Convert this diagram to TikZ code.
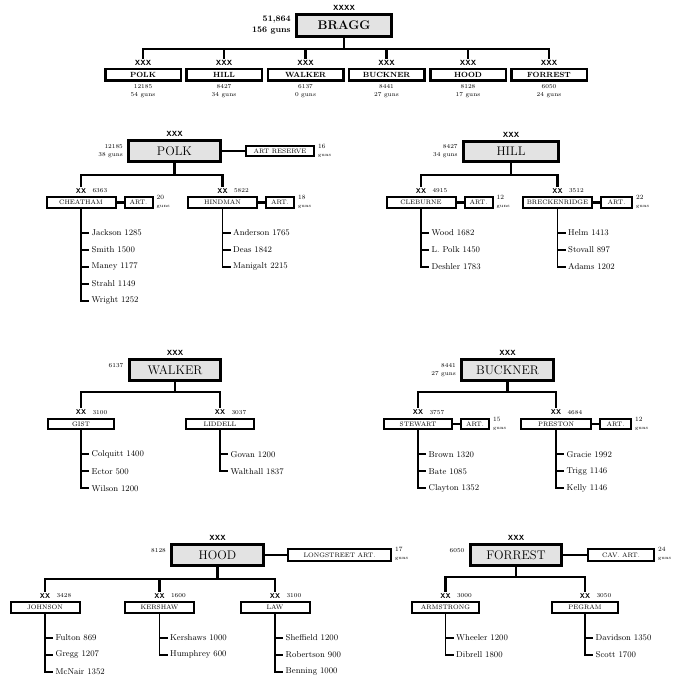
\documentclass[tikz,border=0pt]{standalone}
\usepackage{fontspec}
\usetikzlibrary{positioning, calc}

\newcommand{\gn}{{\fontsize{4.8}{5}\selectfont guns}}
% brigades hanging below a division box
\newcommand{\brigades}[2]{%
  \foreach \t [count=\i] in {#2} {
    \node[bde] (#1-\i) at ($(#1.south)+(8,7+17*\i)$) {\t};
    \draw[sub] (#1.south) |- (#1-\i.west);
  }}

\begin{document}
\begin{tikzpicture}[x=1pt, y=-1pt,
  army/.style={draw, line width=3.2pt, fill=gray!22, minimum width=95pt,
    minimum height=22pt, inner sep=0pt, font=\fontsize{12.5}{12.5}\selectfont\bfseries},
  corps/.style={draw, line width=2.5pt, fill=white, minimum width=75.5pt,
    minimum height=11.5pt, inner sep=0pt, font=\fontsize{7.5}{7.5}\selectfont\bfseries},
  hq/.style={draw, line width=3.3pt, fill=gray!22, minimum width=91.5pt,
    minimum height=20.5pt, inner sep=0pt, font=\fontsize{12.5}{12.5}\selectfont},
  div/.style={draw, line width=2pt, fill=white, minimum width=69pt,
    minimum height=10.5pt, inner sep=0pt, font=\fontsize{6.5}{6.5}\selectfont},
  art/.style={div, minimum width=28pt, right=7pt of #1},
  ech/.style={inner sep=1pt, font=\fontsize{7.5}{7.5}\selectfont\sffamily\bfseries},
  xx/.style={inner sep=1pt, font=\fontsize{7}{7}\selectfont\sffamily\bfseries},
  num/.style={inner sep=1pt, align=right, font=\fontsize{6}{8}\selectfont},
  guns/.style={inner sep=1pt, align=left, anchor=north west,
    font=\fontsize{6.5}{8}\selectfont},
  bde/.style={anchor=west, inner sep=2.5pt, font=\fontsize{8.5}{8.5}\selectfont},
  conn/.style={line width=2.2pt},
  sub/.style={line width=1.8pt}]

  \useasboundingbox (0,0) rectangle (673,676);

  % army and corps
  \node[army] (bragg) at (344,25.5) {BRAGG};
  \node[ech, above=1pt of bragg] {XXXX};
  \node[num, left=3pt of bragg, font=\fontsize{8.5}{11}\selectfont\bfseries] {51,864\\156 guns};
  \foreach \t/\n/\x/\m/\g in {POLK/c1/143/12185/54, HILL/c2/224/8427/34,
      WALKER/c3/305.5/6137/0, BUCKNER/c4/386.5/8441/27,
      HOOD/c5/468/8128/17, FORREST/c6/549/6050/24} {
    \node[corps] (\n) at (\x,75) {\t};
    \node[ech, above=1pt of \n] (\n-x) {XXX};
    \node[num, align=center, below=1pt of \n] {\m\\\g{} guns};
    \draw[conn] (bragg.south) -- ++(0,11) -| (\n-x.north);
  }

  % Polk
  \node[hq] (polk) at (174.5,151) {POLK};
  \node[ech, above=1pt of polk] {XXX};
  \node[num, left=3pt of polk] {12185\\38 guns};
  \node[div, minimum width=68pt] (artres) at (280,151) {ART RESERVE};
  \node[guns] at ([shift={(2,-2)}]artres.north east) {16\\\gn};
  \draw[conn] (polk.east) -- (artres.west);

  \node[div] (cheat) at (81,202.5) {CHEATHAM};
  \node[xx, above=2pt of cheat] (cheat-x) {XX};
  \node[num, right=4pt of cheat-x] {6363};
  \node[art=cheat] (cheat-art) {ART.};
  \node[guns] at ([shift={(2,-2)}]cheat-art.north east) {20\\\gn};
  \draw[conn] (cheat) -- (cheat-art);
  \brigades{cheat}{Jackson 1285, Smith 1500, Maney 1177, Strahl 1149, Wright 1252}

  \node[div] (hind) at (222.5,202.5) {HINDMAN};
  \node[xx, above=2pt of hind] (hind-x) {XX};
  \node[num, right=4pt of hind-x] {5822};
  \node[art=hind] (hind-art) {ART.};
  \node[guns] at ([shift={(2,-2)}]hind-art.north east) {18\\\gn};
  \draw[conn] (hind) -- (hind-art);
  \brigades{hind}{Anderson 1765, Deas 1842, Manigalt 2215}

  \draw[conn] (polk.south) -- ++(0,12) -| (cheat-x.north);
  \draw[conn] (polk.south) -- ++(0,12) -| (hind-x.north);

  % Hill
  \node[hq, minimum width=95pt] (hill) at (511,151.5) {HILL};
  \node[ech, above=1pt of hill] {XXX};
  \node[num, left=3pt of hill] {8427\\34 guns};

  \node[div] (cleb) at (421,202.5) {CLEBURNE};
  \node[xx, above=2pt of cleb] (cleb-x) {XX};
  \node[num, right=4pt of cleb-x] {4915};
  \node[art=cleb] (cleb-art) {ART.};
  \node[guns] at ([shift={(2,-2)}]cleb-art.north east) {12\\\gn};
  \draw[conn] (cleb) -- (cleb-art);
  \brigades{cleb}{Wood 1682, L. Polk 1450, Deshler 1783}

  \node[div] (breck) at (557.5,202.5) {BRECKENRIDGE};
  \node[xx, above=2pt of breck] (breck-x) {XX};
  \node[num, right=4pt of breck-x] {3512};
  \node[art=breck, minimum width=31pt] (breck-art) {ART.};
  \node[guns] at ([shift={(2,-2)}]breck-art.north east) {22\\\gn};
  \draw[conn] (breck) -- (breck-art);
  \brigades{breck}{Helm 1413, Stovall 897, Adams 1202}

  \draw[conn] (hill.south) -- ++(0,12) -| (cleb-x.north);
  \draw[conn] (hill.south) -- ++(0,12) -| (breck-x.north);

  % Walker
  \node[hq] (walker) at (175,370) {WALKER};
  \node[ech, above=1pt of walker] {XXX};
  \node[num, anchor=north east] at ([shift={(-3,4)}]walker.north west) {6137};

  \node[div, minimum width=66pt] (gist) at (81,424) {GIST};
  \node[xx, above=2pt of gist] (gist-x) {XX};
  \node[num, right=4pt of gist-x] {3100};
  \brigades{gist}{Colquitt 1400, Ector 500, Wilson 1200}

  \node[div, minimum width=68pt] (lidd) at (220,424) {LIDDELL};
  \node[xx, above=2pt of lidd] (lidd-x) {XX};
  \node[num, right=4pt of lidd-x] {3037};
  \brigades{lidd}{Govan 1200, Walthall 1837}

  \draw[conn] (walker.south) -- ++(0,10) -| (gist-x.north);
  \draw[conn] (walker.south) -- ++(0,10) -| (lidd-x.north);

  % Buckner
  \node[hq] (buck) at (507.5,370) {BUCKNER};
  \node[ech, above=1pt of buck] {XXX};
  \node[num, left=3pt of buck] {8441\\27 guns};

  \node[div, minimum width=68pt] (stew) at (418,424) {STEWART};
  \node[xx, above=2pt of stew] (stew-x) {XX};
  \node[num, right=4pt of stew-x] {3757};
  \node[art=stew] (stew-art) {ART.};
  \node[guns] at ([shift={(2,-2)}]stew-art.north east) {15\\\gn};
  \draw[conn] (stew) -- (stew-art);
  \brigades{stew}{Brown 1320, Bate 1085, Clayton 1352}

  \node[div, minimum width=70pt] (prest) at (556,424) {PRESTON};
  \node[xx, above=2pt of prest] (prest-x) {XX};
  \node[num, right=4pt of prest-x] {4684};
  \node[art=prest, minimum width=31pt] (prest-art) {ART.};
  \node[guns] at ([shift={(2,-2)}]prest-art.north east) {12\\\gn};
  \draw[conn] (prest) -- (prest-art);
  \brigades{prest}{Gracie 1992, Trigg 1146, Kelly 1146}

  \draw[conn] (buck.south) -- ++(0,10) -| (stew-x.north);
  \draw[conn] (buck.south) -- ++(0,10) -| (prest-x.north);

  % Hood
  \node[hq] (hood) at (217.5,555) {HOOD};
  \node[ech, above=1pt of hood] {XXX};
  \node[num, anchor=north east] at ([shift={(-3,4)}]hood.north west) {8128};
  \node[div, minimum width=103pt, minimum height=12pt] (longst) at (339.5,555) {LONGSTREET ART.};
  \node[guns] at ([shift={(2,-2)}]longst.north east) {17\\\gn};
  \draw[conn] (hood.east) -- (longst.west);

  \node[div] (john) at (45,607.5) {JOHNSON};
  \node[xx, above=2pt of john] (john-x) {XX};
  \node[num, right=4pt of john-x] {3428};
  \brigades{john}{Fulton 869, Gregg 1207, McNair 1352}

  \node[div] (kersh) at (159.5,607.5) {KERSHAW};
  \node[xx, above=2pt of kersh] (kersh-x) {XX};
  \node[num, right=4pt of kersh-x] {1600};
  \brigades{kersh}{Kershaws 1000, Humphrey 600}

  \node[div] (law) at (275,607.5) {LAW};
  \node[xx, above=2pt of law] (law-x) {XX};
  \node[num, right=4pt of law-x] {3100};
  \brigades{law}{Sheffield 1200, Robertson 900, Benning 1000}

  \draw[conn] (hood.south) -- ++(0,12) -| (john-x.north);
  \draw[conn] (hood.south) -- ++(0,12) -| (kersh-x.north);
  \draw[conn] (hood.south) -- ++(0,12) -| (law-x.north);

  % Forrest
  \node[hq] (forr) at (516,555) {FORREST};
  \node[ech, above=1pt of forr] {XXX};
  \node[num, anchor=north east] at ([shift={(-3,4)}]forr.north west) {6050};
  \node[div, minimum width=66pt, minimum height=12pt] (cavart) at (621,555) {CAV. ART.};
  \node[guns] at ([shift={(2,-2)}]cavart.north east) {24\\\gn};
  \draw[conn] (forr.east) -- (cavart.west);

  \node[div, minimum width=67pt] (arm) at (445.5,607.5) {ARMSTRONG};
  \node[xx, above=2pt of arm] (arm-x) {XX};
  \node[num, right=4pt of arm-x] {3000};
  \brigades{arm}{Wheeler 1200, Dibrell 1800}

  \node[div, minimum width=66pt] (peg) at (585,607.5) {PEGRAM};
  \node[xx, above=2pt of peg] (peg-x) {XX};
  \node[num, right=4pt of peg-x] {3050};
  \brigades{peg}{Davidson 1350, Scott 1700}

  \draw[conn] (forr.south) -- ++(0,10) -| (arm-x.north);
  \draw[conn] (forr.south) -- ++(0,10) -| (peg-x.north);
\end{tikzpicture}
\end{document}
